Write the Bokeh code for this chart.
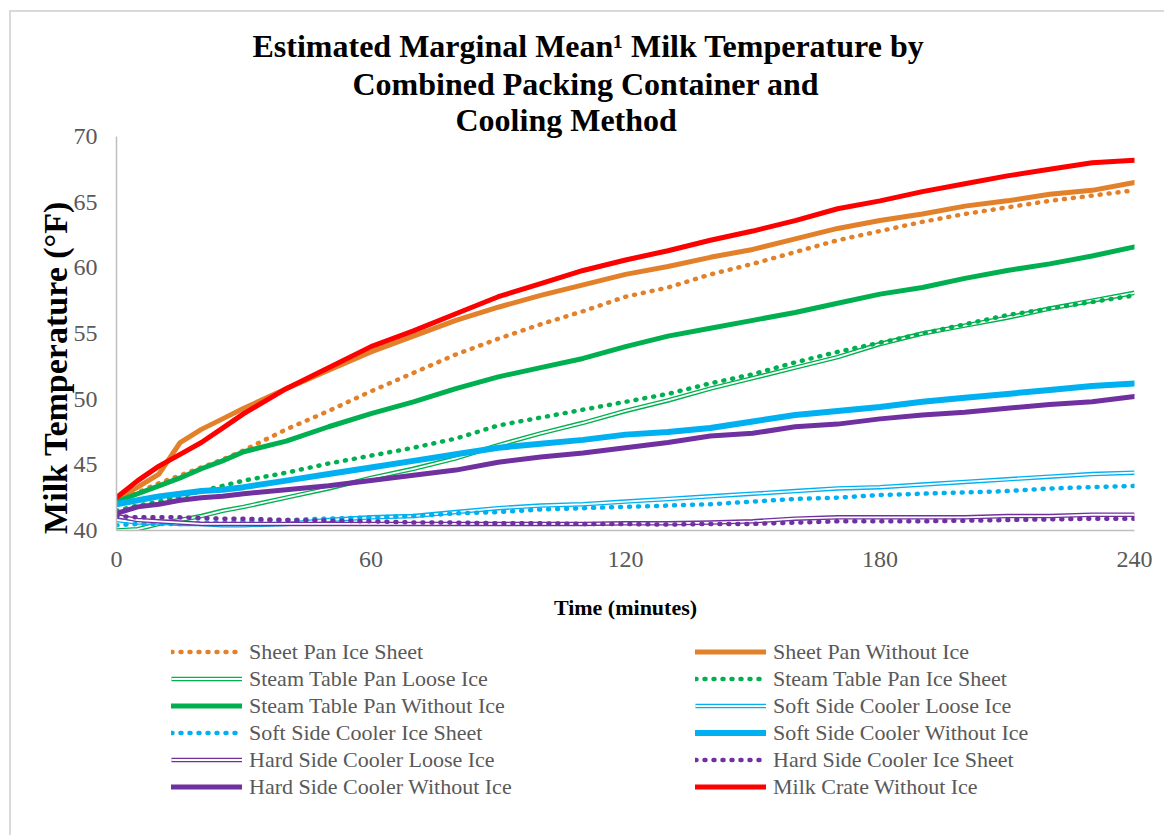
from bokeh.plotting import figure
from bokeh.models import FixedTicker, Legend, LegendItem, Title, Range1d
from bokeh.layouts import column
from bokeh.embed import file_html
from bokeh.resources import INLINE

# ---------------- data ----------------
TIME = [0, 5, 10, 15, 20, 25, 30, 40, 50, 60, 70, 80, 90, 100, 110, 120,
        130, 140, 150, 160, 170, 180, 190, 200, 210, 220, 230, 240]

sheet_pan_ice_sheet = [42.2, 42.9, 43.6, 44.2, 44.8, 45.4, 46.1, 47.7, 49.1, 50.6, 52.0, 53.4, 54.6, 55.7,
                       56.7, 57.8, 58.5, 59.5, 60.3, 61.2, 62.1, 62.8, 63.5, 64.1, 64.6, 65.1, 65.5, 65.9]
sheet_pan_without_ice = [42.4, 43.3, 44.3, 46.7, 47.7, 48.5, 49.3, 50.8, 52.2, 53.6, 54.8, 56.0, 57.0, 57.9,
                         58.7, 59.5, 60.1, 60.8, 61.4, 62.2, 63.0, 63.6, 64.1, 64.7, 65.1, 65.6, 65.9, 66.5]
steam_loose_ice = [40.0, 40.1, 40.5, 40.8, 41.1, 41.5, 41.8, 42.5, 43.2, 44.0, 44.7, 45.5, 46.5, 47.4,
                   48.2, 49.1, 49.9, 50.8, 51.6, 52.4, 53.2, 54.2, 55.0, 55.6, 56.2, 56.9, 57.5, 58.1]
steam_ice_sheet = [41.5, 41.9, 42.2, 42.6, 43.0, 43.4, 43.8, 44.4, 45.1, 45.7, 46.3, 47.0, 48.0, 48.6,
                   49.2, 49.8, 50.4, 51.2, 51.9, 52.8, 53.6, 54.3, 55.0, 55.7, 56.4, 56.9, 57.4, 57.9]
steam_without_ice = [42.2, 42.8, 43.4, 44.0, 44.7, 45.3, 46.0, 46.8, 47.9, 48.9, 49.8, 50.8, 51.7, 52.4,
                     53.1, 54.0, 54.8, 55.4, 56.0, 56.6, 57.3, 58.0, 58.5, 59.2, 59.8, 60.3, 60.9, 61.6]
soft_loose_ice = [40.8, 40.6, 40.6, 40.5, 40.5, 40.4, 40.4, 40.5, 40.8, 41.0, 41.1, 41.4, 41.7, 41.9,
                  42.0, 42.2, 42.4, 42.6, 42.8, 43.0, 43.2, 43.3, 43.5, 43.7, 43.9, 44.1, 44.3, 44.4]
soft_ice_sheet = [40.4, 40.5, 40.5, 40.5, 40.6, 40.6, 40.7, 40.8, 40.9, 41.0, 41.1, 41.3, 41.4, 41.6,
                  41.7, 41.8, 41.9, 42.0, 42.2, 42.4, 42.5, 42.7, 42.8, 42.9, 43.0, 43.2, 43.3, 43.4]
soft_without_ice = [42.0, 42.3, 42.6, 42.8, 43.0, 43.1, 43.3, 43.8, 44.3, 44.8, 45.3, 45.8, 46.3, 46.6,
                    46.9, 47.3, 47.5, 47.8, 48.3, 48.8, 49.1, 49.4, 49.8, 50.1, 50.4, 50.7, 51.0, 51.2]
hard_loose_ice = [41.1, 40.8, 40.7, 40.6, 40.5, 40.5, 40.5, 40.5, 40.5, 40.5, 40.5, 40.5, 40.5, 40.5,
                  40.5, 40.55, 40.55, 40.6, 40.7, 40.9, 41.0, 41.0, 41.0, 41.0, 41.1, 41.1, 41.2, 41.2]
hard_ice_sheet = [41.1, 41.0, 41.0, 41.0, 40.95, 40.9, 40.9, 40.8, 40.75, 40.7, 40.6, 40.6, 40.55, 40.55,
                  40.5, 40.5, 40.45, 40.5, 40.5, 40.6, 40.7, 40.7, 40.7, 40.75, 40.8, 40.85, 40.9, 40.9]
hard_without_ice = [41.3, 41.8, 42.0, 42.3, 42.5, 42.6, 42.8, 43.1, 43.4, 43.8, 44.2, 44.6, 45.2, 45.6,
                    45.9, 46.3, 46.7, 47.2, 47.4, 47.9, 48.1, 48.5, 48.8, 49.0, 49.3, 49.6, 49.8, 50.2]
milk_crate_without_ice = [42.5, 43.8, 44.9, 45.8, 46.7, 47.8, 48.9, 50.8, 52.4, 54.0, 55.2, 56.5, 57.8, 58.8,
                          59.8, 60.6, 61.3, 62.1, 62.8, 63.6, 64.5, 65.1, 65.8, 66.4, 67.0, 67.5, 68.0, 68.2]

SERIES_NAMES = ["Sheet Pan Ice Sheet", "Sheet Pan Without Ice",
                "Steam Table Pan Loose Ice", "Steam Table Pan Ice Sheet",
                "Steam Table Pan Without Ice", "Soft Side Cooler Loose Ice",
                "Soft Side Cooler Ice Sheet", "Soft Side Cooler Without Ice",
                "Hard Side Cooler Loose Ice", "Hard Side Cooler Ice Sheet",
                "Hard Side Cooler Without Ice", "Milk Crate Without Ice"]
SERIES_VALUES = [sheet_pan_ice_sheet, sheet_pan_without_ice, steam_loose_ice, steam_ice_sheet,
                 steam_without_ice, soft_loose_ice, soft_ice_sheet, soft_without_ice,
                 hard_loose_ice, hard_ice_sheet, hard_without_ice, milk_crate_without_ice]

X_TICKS = [0, 60, 120, 180, 240]
Y_TICKS = [40, 45, 50, 55, 60, 65, 70]

TITLE_LINES = ["Estimated Marginal Mean\u00b9 Milk Temperature by",
               "Combined Packing Container and",
               "Cooling Method"]
X_LABEL = "Time (minutes)"
Y_LABEL = "Milk Temperature (\u00b0F)"

# ---------------- styles ----------------
ORANGE = "#E3802A"
GREEN = "#00B050"
BLUE = "#00B0F0"
PURPLE = "#7030A0"
RED = "#FF0000"
SERIES_STYLE = [(ORANGE, "dot"), (ORANGE, "solid"), (GREEN, "double"), (GREEN, "dot"),
                (GREEN, "solid"), (BLUE, "double"), (BLUE, "dot"), (BLUE, "solidw"),
                (PURPLE, "double"), (PURPLE, "dot"), (PURPLE, "solid"), (RED, "solid")]
TITLE_OFFSETS = [136, 236, 339]
TITLE_STANDOFFS = [0, 0, -3]

FONT = "Liberation Serif"
GRAY_TXT = "#595959"

W = 1164
H1 = 625
H2 = 210

p = figure(width=W, height=H1, x_range=(0, 240), y_range=(40, 70),
           output_backend="svg", toolbar_location=None,
           min_border_left=116, min_border_right=30, min_border_top=136, min_border_bottom=95)
p.outline_line_color = None
p.xgrid.visible = False
p.ygrid.visible = False
p.border_fill_color = None
p.background_fill_color = None

for ax in (p.xaxis[0], p.yaxis[0]):
    ax.axis_line_color = "#BFBFBF"
    ax.axis_line_width = 1.5
    ax.major_tick_line_color = None
    ax.minor_tick_line_color = None
    ax.major_label_text_font = FONT
    ax.major_label_text_font_size = "24px"
    ax.major_label_text_color = GRAY_TXT
    ax.axis_label_text_font = FONT
    ax.axis_label_text_font_style = "bold"
    ax.axis_label_text_color = "black"
p.xaxis.ticker = FixedTicker(ticks=X_TICKS)
p.yaxis.ticker = FixedTicker(ticks=Y_TICKS)
p.xaxis.major_label_standoff = 15
p.yaxis.major_label_standoff = 13
p.xaxis.axis_label = X_LABEL
p.xaxis.axis_label_text_font_size = "22px"
p.xaxis.axis_label_standoff = 25
# trailing no-break spaces push the rotated title slightly down, as in the reference
p.yaxis.axis_label = Y_LABEL + "\u00a0" * 8
p.yaxis.axis_label_text_font_size = "34px"
p.yaxis.axis_label_standoff = -3

# three-line title (added innermost first)
for txt, off, so in reversed(list(zip(TITLE_LINES, TITLE_OFFSETS, TITLE_STANDOFFS))):
    p.add_layout(Title(text=txt, align="left", offset=off, standoff=so,
                       text_font=FONT, text_font_size="32px", text_font_style="bold",
                       text_color="black"), "above")


def draw(fig, xs, ys, col, kind):
    if kind in ("solid", "solidw"):
        w = 6 if kind == "solidw" else 5
        return [fig.line(xs, ys, line_color=col, line_width=w, line_join="round", line_cap="round")]
    if kind == "dot":
        return [fig.line(xs, ys, line_color=col, line_width=4.5, line_dash="1 8", line_cap="round")]
    r1 = fig.line(xs, ys, line_color=col, line_width=4.5, line_join="round")
    r2 = fig.line(xs, ys, line_color="white", line_width=1.8, line_join="round")
    return [r1, r2]


for vals, (col, kind) in zip(SERIES_VALUES, SERIES_STYLE):
    draw(p, TIME, vals, col, kind)

# ---------------- legend panel (two columns, row-major order) ----------------
# the same series are drawn here, outside the visible range, only to feed the legend
q = figure(width=W, height=H2, x_range=Range1d(1000, 1001), y_range=Range1d(1000, 1001),
           output_backend="svg", toolbar_location=None,
           x_axis_type=None, y_axis_type=None,
           min_border_left=0, min_border_right=0, min_border_top=0, min_border_bottom=0)
q.outline_line_color = None
q.xgrid.visible = False
q.ygrid.visible = False
q.border_fill_color = None
q.background_fill_color = None

legend_renderers = []
for vals, (col, kind) in zip(SERIES_VALUES, SERIES_STYLE):
    legend_renderers.append(draw(q, TIME, vals, col, kind))


def make_legend(idx, x):
    items = [LegendItem(label=SERIES_NAMES[i], renderers=legend_renderers[i]) for i in idx]
    lg = Legend(items=items, location=(x, 35), orientation="vertical",
                glyph_width=71, glyph_height=27, label_height=27, spacing=0,
                label_standoff=7, padding=0, margin=0,
                border_line_color=None, background_fill_alpha=0,
                label_text_font=FONT, label_text_font_size="22px",
                label_text_color=GRAY_TXT)
    q.add_layout(lg, "center")


# the legend panel's frame is aligned with the chart frame (left edge at x = 116)
make_legend([0, 2, 4, 6, 8, 10], 55)
make_legend([1, 3, 5, 7, 9, 11], 579)

layout = column(p, q, spacing=0,
                styles={"background-color": "white",
                        "background-image": "linear-gradient(#D9D9D9, #D9D9D9), linear-gradient(#D9D9D9, #D9D9D9)",
                        "background-repeat": "no-repeat",
                        "background-position": "9px 10px, 9px 10px",
                        "background-size": "2px 100%, 100% 2px"})

open("out.html", "w").write(file_html(layout, INLINE))
